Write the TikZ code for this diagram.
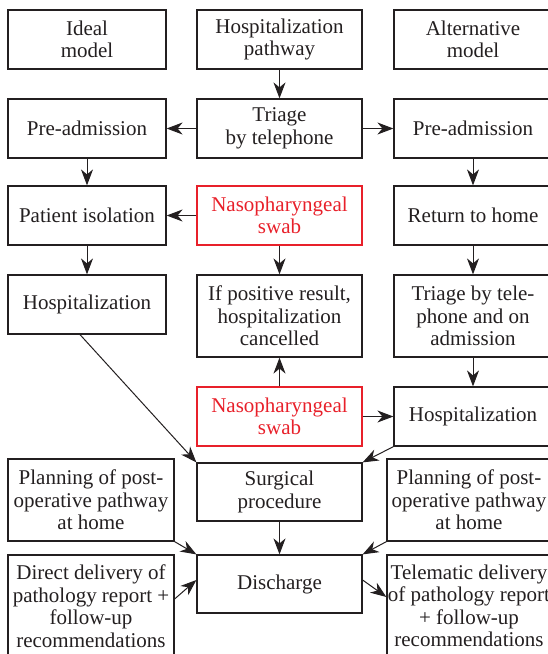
\documentclass[tikz,border=0pt]{standalone}
\usepackage{fontspec}
\setmainfont{Liberation Serif}
\usetikzlibrary{arrows.meta}
\definecolor{linha}{HTML}{231F20}
\definecolor{vermelho}{HTML}{E8202A}

\begin{document}
\begin{tikzpicture}[x=1pt,y=-1pt, %Unidades em pixels
	caixa/.style={draw=linha, line width=1.2pt, text=linha, inner sep=0pt, align=center, minimum width=158pt, minimum height=59pt, font=\fontsize{21}{22.5}\selectfont},
	meio/.style={caixa, minimum width=165pt},
	alto/.style={minimum height=82pt},
	cotonete/.style={meio, draw=vermelho, text=vermelho},
	seta/.style={draw=linha, line width=1pt, -{Stealth[length=16pt,width=12pt,inset=5pt]}}]
	\useasboundingbox (0,0) rectangle (547,654); %Margens
		%Linha 1
	\node[caixa] (ideal) at (87,39.5) {Ideal\\model};
	\node[meio] (caminho) at (279.5,39.5) {Hospitalization\\pathway};
	\node[caixa] (alternativo) at (473,39.5) {Alternative\\model};
		%Linha 2
	\node[caixa] (preE) at (87,128.5) {Pre-admission};
	\node[meio] (triagem) at (279.5,128.5) {Triage\\by telephone};
	\node[caixa] (preD) at (473,128.5) {Pre-admission};
		%Linha 3
	\node[caixa] (isolamento) at (87,215.5) {Patient isolation};
	\node[cotonete] (swabA) at (279.5,215.5) {Nasopharyngeal\\swab};
	\node[caixa] (casa) at (473,215.5) {Return to home};
		%Linha 4
	\node[caixa] (hospE) at (87,304.5) {Hospitalization};
	\node[meio, alto] (positivo) at (279.5,316) {If positive result,\\hospitalization\\cancelled};
	\node[caixa, alto] (triagemD) at (473,316) {Triage by tele-\\phone and on\\admission};
		%Linha 5
	\node[cotonete] (swabB) at (279.5,416.5) {Nasopharyngeal\\swab};
	\node[caixa] (hospD) at (473,416.5) {Hospitalization};
		%Linha 6
	\node[caixa, alto, minimum width=166pt] (planoE) at (91,500) {Planning of post-\\operative pathway\\at home};
	\node[meio, minimum height=58pt] (cirurgia) at (279.5,492) {Surgical\\procedure};
	\node[caixa, alto, minimum width=164pt] (planoD) at (469,500) {Planning of post-\\operative pathway\\at home};
		%Linha 7
	\node[caixa, minimum width=166pt, minimum height=102pt] (entregaE) at (91,606) {Direct delivery of\\pathology report +\\follow-up\\recommendations};
	\node[meio, minimum height=58pt] (alta) at (279.5,584) {Discharge};
	\node[caixa, minimum width=164pt, minimum height=102pt] (entregaD) at (469,606) {Telematic delivery\\of pathology report\\+ follow-up\\recommendations};
		%Setas
	\draw[seta] (caminho) -- (triagem);
	\draw[seta] (triagem) -- (preE);
	\draw[seta] (triagem) -- (preD);
	\draw[seta] (preE) -- (isolamento);
	\draw[seta] (swabA) -- (isolamento);
	\draw[seta] (swabA) -- (positivo);
	\draw[seta] (isolamento) -- (hospE);
	\draw[seta] (preD) -- (casa);
	\draw[seta] (casa) -- (triagemD);
	\draw[seta] (triagemD) -- (hospD);
	\draw[seta] (swabB) -- (positivo);
	\draw[seta] (swabB) -- (hospD);
	\draw[seta] ([xshift=-7pt]hospE.south) -- (cirurgia.north west);
	\draw[seta] (hospD.south west) -- (cirurgia.north east);
	\draw[seta] (cirurgia) -- (alta);
	\draw[seta] (planoE.south east) -- (alta.north west);
	\draw[seta] ([yshift=7pt]entregaE.east) -- ([yshift=4pt]alta.west);
	\draw[seta] (planoD.south west) -- (alta.north east);
	\draw[seta] ([yshift=4pt]alta.east) -- ([yshift=9pt]entregaD.west);
\end{tikzpicture}
\end{document}
